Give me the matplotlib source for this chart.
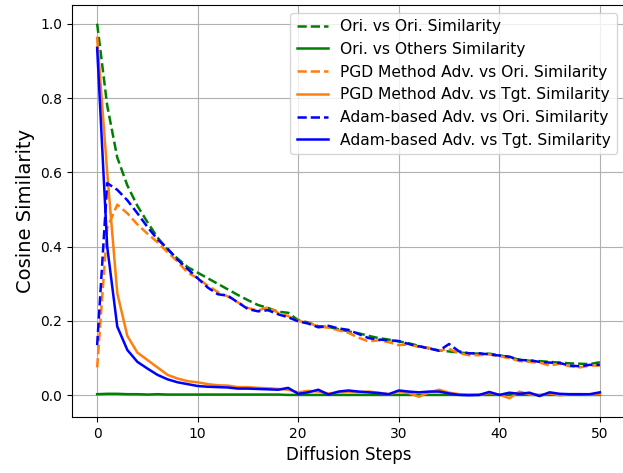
import numpy as np
import matplotlib
matplotlib.use("Agg")
import matplotlib.pyplot as plt

# Diffusion steps 0..50
steps = list(range(51))

ori_vs_ori = [1.0, 0.78, 0.64, 0.565, 0.51, 0.466, 0.425, 0.392, 0.368, 0.345,
              0.33, 0.315, 0.3, 0.285, 0.27, 0.256, 0.243, 0.235, 0.225, 0.222,
              0.202, 0.196, 0.186, 0.184, 0.178, 0.172, 0.167, 0.16, 0.154, 0.15,
              0.145, 0.14, 0.133, 0.126, 0.121, 0.118, 0.115, 0.113, 0.112, 0.112,
              0.108, 0.102, 0.096, 0.093, 0.092, 0.09, 0.088, 0.086, 0.085, 0.084,
              0.089]

ori_vs_others = [0.003, 0.004, 0.004, 0.003, 0.003, 0.002, 0.003, 0.002, 0.002, 0.002,
                 0.002, 0.002, 0.002, 0.002, 0.002, 0.002, 0.002, 0.002, 0.002, 0.001,
                 0.001, 0.001, 0.001, 0.001, 0.001, 0.001, 0.001, 0.001, 0.001, 0.001,
                 0.001, 0.001, 0.001, 0.001, 0.001, 0.001, 0.001, 0.001, 0.001, 0.001,
                 0.001, 0.001, 0.001, 0.001, 0.001, 0.001, 0.001, 0.001, 0.001, 0.001,
                 0.001]

pgd_vs_ori = [0.075, 0.45, 0.513, 0.49, 0.46, 0.435, 0.412, 0.385, 0.36, 0.33,
              0.315, 0.295, 0.278, 0.266, 0.25, 0.235, 0.228, 0.237, 0.222, 0.213,
              0.2, 0.195, 0.185, 0.182, 0.175, 0.168, 0.155, 0.145, 0.148, 0.143,
              0.135, 0.137, 0.13, 0.128, 0.12, 0.125, 0.113, 0.108, 0.108, 0.11,
              0.105, 0.1, 0.092, 0.09, 0.088, 0.08, 0.085, 0.078, 0.075, 0.08,
              0.08]

pgd_vs_tgt = [0.962, 0.6, 0.275, 0.16, 0.115, 0.095, 0.075, 0.055, 0.045, 0.038,
              0.035, 0.03, 0.027, 0.026, 0.022, 0.022, 0.02, 0.019, 0.017, 0.015,
              0.008, 0.012, 0.01, 0.005, 0.008, 0.01, 0.008, 0.01, 0.007, 0.003,
              0.01, 0.006, -0.004, 0.008, 0.015, 0.007, 0.003, 0.002, 0.001, 0.006,
              0.002, -0.008, 0.01, 0.002, 0.0, 0.005, 0.0, 0.003, 0.003, 0.002,
              0.003]

adam_vs_ori = [0.135, 0.571, 0.553, 0.525, 0.49, 0.453, 0.42, 0.395, 0.365, 0.34,
               0.315, 0.29, 0.272, 0.268, 0.25, 0.232, 0.226, 0.229, 0.218, 0.21,
               0.199, 0.193, 0.183, 0.187, 0.18, 0.176, 0.165, 0.154, 0.15, 0.148,
               0.146, 0.138, 0.132, 0.126, 0.12, 0.138, 0.118, 0.113, 0.113, 0.11,
               0.107, 0.104, 0.095, 0.094, 0.09, 0.088, 0.087, 0.08, 0.078, 0.082,
               0.082]

adam_vs_tgt = [0.935, 0.40, 0.185, 0.122, 0.09, 0.072, 0.055, 0.043, 0.035, 0.03,
               0.025, 0.023, 0.022, 0.021, 0.018, 0.018, 0.017, 0.016, 0.015, 0.02,
               0.004, 0.008, 0.015, 0.002, 0.01, 0.013, 0.01, 0.008, 0.006, 0.003,
               0.013, 0.01, 0.008, 0.01, 0.01, 0.005, 0.001, 0.0, 0.001, 0.009,
               0.001, 0.007, 0.004, 0.007, -0.002, 0.008, 0.004, 0.003, 0.003, 0.003,
               0.008]

fig = plt.figure(figsize=(6.23, 4.73), dpi=100)
ax = fig.add_axes([0.1156, 0.1184, 0.8876, 0.871])

lw = 1.8
ax.plot(steps, ori_vs_ori, '--', color='green', lw=lw, label='Ori. vs Ori. Similarity')
ax.plot(steps, ori_vs_others, '-', color='green', lw=lw, label='Ori. vs Others Similarity')
ax.plot(steps, pgd_vs_ori, '--', color='tab:orange', lw=lw, label='PGD Method Adv. vs Ori. Similarity')
ax.plot(steps, pgd_vs_tgt, '-', color='tab:orange', lw=lw, label='PGD Method Adv. vs Tgt. Similarity')
ax.plot(steps, adam_vs_ori, '--', color='blue', lw=lw, label='Adam-based Adv. vs Ori. Similarity')
ax.plot(steps, adam_vs_tgt, '-', color='blue', lw=lw, label='Adam-based Adv. vs Tgt. Similarity')

ax.set_xlabel('Diffusion Steps', fontsize=12)
ax.set_ylabel('Cosine Similarity', fontsize=14)
ax.grid(True)
ax.legend(loc='upper right', fontsize=11.2)

fig.savefig('out.png', dpi=100)
